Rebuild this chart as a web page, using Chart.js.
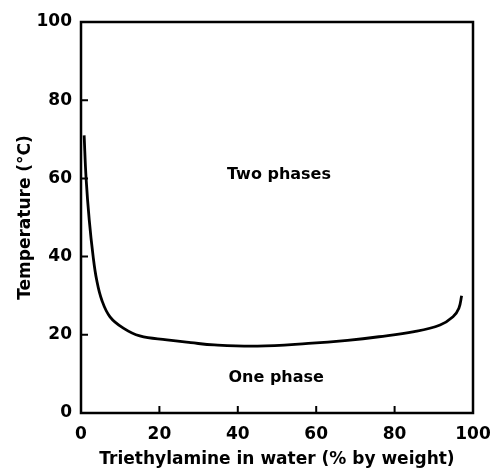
<!DOCTYPE html>
<html><head><meta charset="utf-8">
<script src="https://cdn.jsdelivr.net/npm/chart.js@4"></script>
<style>html,body{margin:0;padding:0;background:#fff}#c{display:block}</style>
</head><body>
<canvas id="c" width="492" height="472"></canvas>
<script>
const curveX = [0.8, 1.3, 2.1, 3.1, 4.0, 5.3, 7.4, 10.8, 15, 21.9, 28, 34, 45, 58, 68, 76, 85, 91.6, 94.9, 96.4, 97.1];
const curveY = [71, 60, 49.4, 40, 34, 28.9, 24.6, 21.7, 19.7, 18.7, 18.0, 17.4, 17.1, 17.8, 18.6, 19.5, 20.8, 22.5, 24.6, 26.8, 30];
const xTicks = [0, 20, 40, 60, 80, 100];
const yTicks = [0, 20, 40, 60, 80, 100];
const regionLabels = ["Two phases", "One phase"];
const regionX = [50.5, 49.8];
const regionY = [61, 9];

const FONT = "'DejaVu Sans', Arial, sans-serif";

const annot = {
  id: 'annot',
  afterDatasetsDraw(chart) {
    const ctx = chart.ctx, xs = chart.scales.x, ys = chart.scales.y, a = chart.chartArea;
    ctx.save();
    ctx.strokeStyle = '#000';
    ctx.lineWidth = 2.5;
    ctx.strokeRect(a.left, a.top, a.right - a.left, a.bottom - a.top);
    ctx.lineWidth = 2;
    ctx.beginPath();
    xTicks.forEach(v => { if (v > 0 && v < 100) { const p = xs.getPixelForValue(v); ctx.moveTo(p, a.bottom); ctx.lineTo(p, a.bottom - 7); } });
    yTicks.forEach(v => { if (v > 0 && v < 100) { const p = ys.getPixelForValue(v); ctx.moveTo(a.left, p); ctx.lineTo(a.left + 7, p); } });
    ctx.stroke();
    ctx.fillStyle = '#000';
    ctx.font = "bold 16px " + FONT;
    ctx.textAlign = 'center';
    ctx.textBaseline = 'middle';
    regionLabels.forEach((t, i) => ctx.fillText(t, xs.getPixelForValue(regionX[i]), ys.getPixelForValue(regionY[i])));
    ctx.restore();
  }
};

new Chart(document.getElementById('c'), {
  type: 'line',
  data: {
    datasets: [{
      data: curveX.map((x, i) => ({x, y: curveY[i]})),
      borderColor: '#000', borderWidth: 2.8, pointRadius: 0, tension: 0.4, fill: false
    }]
  },
  options: {
    responsive: false, animation: false,
    layout: { padding: { left: 0, right: 0, top: 22, bottom: 0 } },
    plugins: { legend: { display: false }, tooltip: { enabled: false } },
    scales: {
      x: {
        type: 'linear', min: 0, max: 100,
        afterBuildTicks: s => { s.ticks = xTicks.map(v => ({value: v})); },
        afterFit: s => { s.height = 59; s.paddingRight = 19; },
        grid: { display: false, drawTicks: false },
        border: { display: false },
        ticks: { color: '#000', font: { family: FONT, size: 17, weight: 'bold' }, padding: 11, maxRotation: 0 },
        title: { display: true, text: 'Triethylamine in water (% by weight)', color: '#000', font: { family: FONT, size: 17, weight: 'bold' }, padding: { top: 0, bottom: 2 } }
      },
      y: {
        type: 'linear', min: 0, max: 100,
        afterBuildTicks: s => { s.ticks = yTicks.map(v => ({value: v})); },
        afterFit: s => { s.width = 81; },
        grid: { display: false, drawTicks: false },
        border: { display: false },
        ticks: { color: '#000', font: { family: FONT, size: 17, weight: 'bold' }, padding: 9 },
        title: { display: true, text: 'Temperature (°C)', color: '#000', font: { family: FONT, size: 17, weight: 'bold' }, padding: { top: 15, bottom: 0 } }
      }
    }
  },
  plugins: [annot]
});
</script>
</body></html>
